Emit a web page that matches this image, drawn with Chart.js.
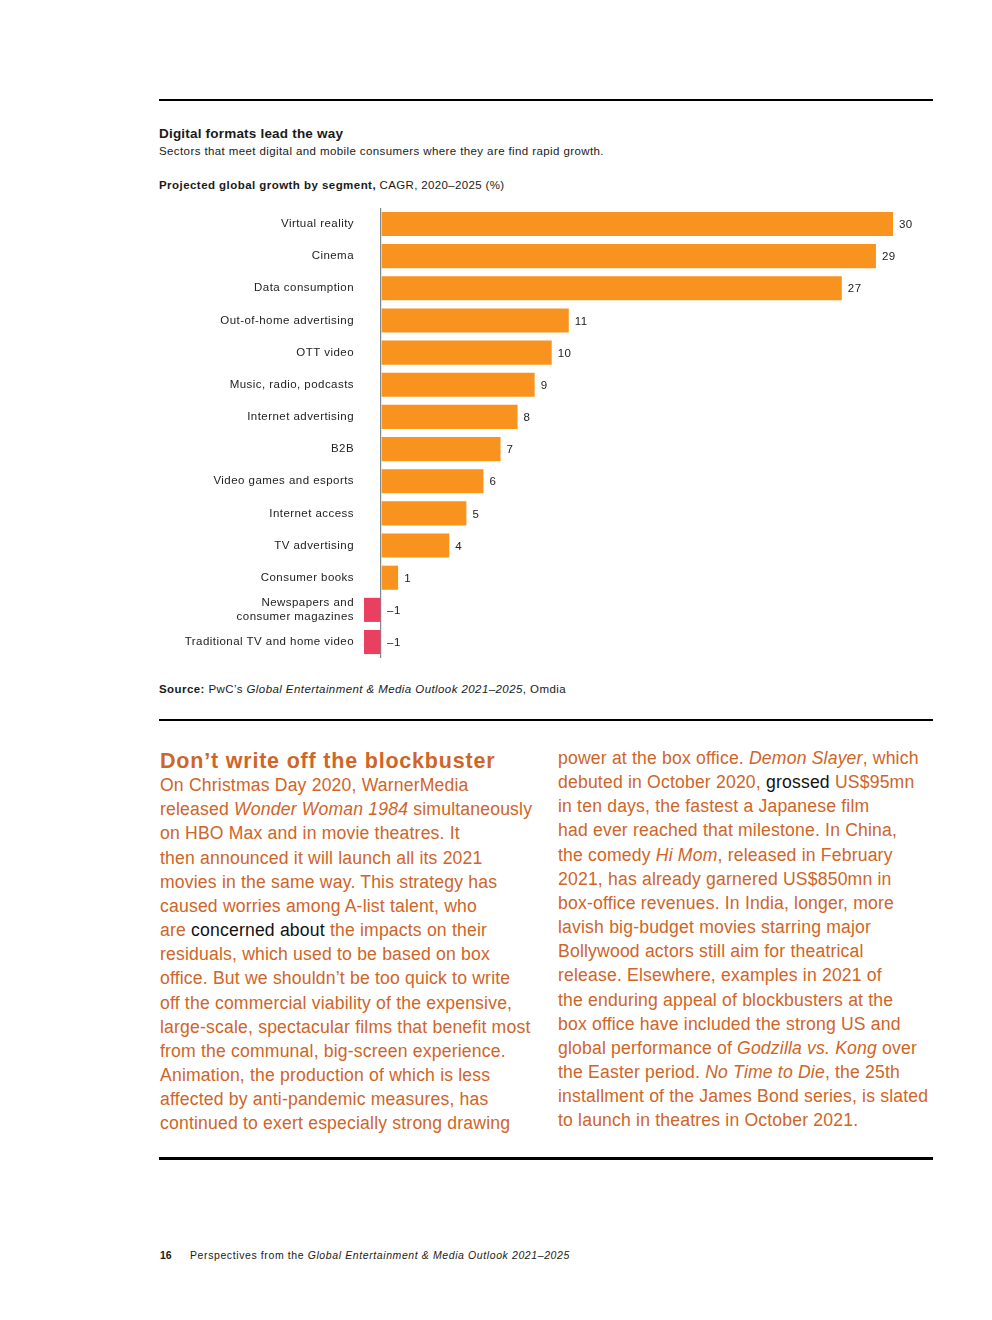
<!DOCTYPE html>
<html>
<head>
<meta charset="utf-8">
<script src="https://cdn.jsdelivr.net/npm/chart.js@4.4.1/dist/chart.umd.min.js"></script>
<style>
  body { margin: 0; width: 992px; height: 1320px; position: relative; background: #fff;
         font-family: "Liberation Sans", Arial, sans-serif; color: #1a1a1a; }
  .rule { position: absolute; left: 159px; width: 774px; background: #000; }
  .abs { position: absolute; white-space: nowrap; }
  .title { left: 159px; top: 126px; font-size: 13.5px; font-weight: bold; letter-spacing: 0.2px; }
  .sub { left: 159px; top: 145px; font-size: 11.5px; letter-spacing: 0.4px; }
  .unit { left: 159px; top: 179px; font-size: 11.5px; letter-spacing: 0.35px; }
  .unit b { letter-spacing: 0.45px; }
  .source { left: 159px; top: 683px; font-size: 11.5px; letter-spacing: 0.42px; }
  #chartBox { position: absolute; left: 159px; top: 191px; width: 774px; height: 484px; }
  .col { position: absolute; font-size: 17.6px; line-height: 24.15px; color: #cf6528;
         white-space: nowrap; letter-spacing: 0.18px; }
  .col h2 { font-size: 21.5px; margin: 0; line-height: 24.15px; font-weight: bold; letter-spacing: 0.8px; }
  .col .k { color: #111; }
  .footer { left: 160px; top: 1249px; font-size: 10.5px; letter-spacing: 0.6px; }
  .footer b { display: inline-block; width: 30px; letter-spacing: 0; }
</style>
</head>
<body>
<div class="rule" style="top:99px;height:2px"></div>
<div class="abs title">Digital formats lead the way</div>
<div class="abs sub">Sectors that meet digital and mobile consumers where they are find rapid growth.</div>
<div class="abs unit"><b>Projected global growth by segment,</b> CAGR, 2020–2025 (%)</div>

<div id="chartBox"><canvas id="growthChart"></canvas></div>

<div class="abs source"><b>Source:</b> PwC’s <i>Global Entertainment &amp; Media Outlook 2021–2025</i>, Omdia</div>
<div class="rule" style="top:719px;height:2px"></div>

<div class="col" style="left:160px;top:749px">
  <h2>Don’t write off the blockbuster</h2>
  <div>On Christmas Day 2020, WarnerMedia</div>
  <div>released <i>Wonder Woman 1984</i> simultaneously</div>
  <div>on HBO Max and in movie theatres. It</div>
  <div>then announced it will launch all its 2021</div>
  <div>movies in the same way. This strategy has</div>
  <div>caused worries among A-list talent, who</div>
  <div>are <span class="k">concerned about</span> the impacts on their</div>
  <div>residuals, which used to be based on box</div>
  <div>office. But we shouldn’t be too quick to write</div>
  <div>off the commercial viability of the expensive,</div>
  <div>large-scale, spectacular films that benefit most</div>
  <div>from the communal, big-screen experience.</div>
  <div>Animation, the production of which is less</div>
  <div>affected by anti-pandemic measures, has</div>
  <div>continued to exert especially strong drawing</div>
</div>

<div class="col" style="left:558px;top:746px">
  <div>power at the box office. <i>Demon Slayer</i>, which</div>
  <div>debuted in October 2020, <span class="k">grossed</span> US$95mn</div>
  <div>in ten days, the fastest a Japanese film</div>
  <div>had ever reached that milestone. In China,</div>
  <div>the comedy <i>Hi Mom</i>, released in February</div>
  <div>2021, has already garnered US$850mn in</div>
  <div>box-office revenues. In India, longer, more</div>
  <div>lavish big-budget movies starring major</div>
  <div>Bollywood actors still aim for theatrical</div>
  <div>release. Elsewhere, examples in 2021 of</div>
  <div>the enduring appeal of blockbusters at the</div>
  <div>box office have included the strong US and</div>
  <div>global performance of <i>Godzilla vs. Kong</i> over</div>
  <div>the Easter period. <i>No Time to Die</i>, the 25th</div>
  <div>installment of the James Bond series, is slated</div>
  <div>to launch in theatres in October 2021.</div>
</div>

<div class="rule" style="top:1157px;height:3px"></div>
<div class="abs footer"><b>16</b>Perspectives from the <i>Global Entertainment &amp; Media Outlook 2021–2025</i></div>

<script>
// Données du graphique
const categories = [
    'Virtual reality', 'Cinema', 'Data consumption', 'Out-of-home advertising', 'OTT video',
    'Music, radio, podcasts', 'Internet advertising', 'B2B', 'Video games and esports',
    'Internet access', 'TV advertising', 'Consumer books',
    ['Newspapers and', 'consumer magazines'], 'Traditional TV and home video'
];
const growth = [30, 29, 27, 11, 10, 9, 8, 7, 6, 5, 4, 1, -1, -1];
const axisRange = [-1, 30];

const orange = '#f7931e';
const pink = '#e9405f';

// Espacement des lettres sur le canvas (comme dans la mise en page d'origine)
const letterSpacing = {
    id: 'letterSpacing',
    beforeDraw(chart) {
        chart.ctx.letterSpacing = '0.45px';
    }
};

// Affiche la valeur au bout de chaque barre
const valueLabels = {
    id: 'valueLabels',
    afterDatasetsDraw(chart) {
        const ctx = chart.ctx;
        const zero = chart.scales.x.getPixelForValue(0);
        ctx.save();
        ctx.font = '11.5px "Liberation Sans", Arial, sans-serif';
        ctx.fillStyle = '#222';
        ctx.textBaseline = 'middle';
        chart.getDatasetMeta(0).data.forEach((bar, i) => {
            const v = growth[i];
            const text = v < 0 ? '\u2013' + Math.abs(v) : String(v);
            ctx.fillText(text, Math.max(bar.x, zero) + 6, bar.y + 1);
        });
        ctx.restore();
    }
};

const ctx = document.getElementById('growthChart').getContext('2d');
const growthChart = new Chart(ctx, {
    type: 'bar',
    data: {
        labels: categories,
        datasets: [{
            data: growth,
            backgroundColor: growth.map(v => v < 0 ? pink : orange),
            barPercentage: 0.75,
            categoryPercentage: 1
        }]
    },
    options: {
        indexAxis: 'y',
        responsive: true,
        maintainAspectRatio: false,
        animation: false,
        layout: { padding: { top: 8, right: 40, bottom: 0, left: 0 } },
        plugins: { legend: { display: false }, tooltip: { enabled: false } },
        scales: {
            x: {
                min: axisRange[0],
                max: axisRange[1],
                ticks: { display: false, stepSize: 1 },
                border: { display: false },
                grid: {
                    drawTicks: false,
                    lineWidth: 1.2,
                    color: c => c.tick && c.tick.value === 0 ? '#7f8a90' : 'transparent'
                }
            },
            y: {
                border: { display: false },
                grid: { display: false, drawTicks: false },
                ticks: {
                    padding: 10,
                    color: '#222',
                    font: { family: '"Liberation Sans", Arial, sans-serif', size: 11.5 }
                },
                afterFit: scale => { scale.width = 205; }
            }
        }
    },
    plugins: [letterSpacing, valueLabels]
});
</script>
</body>
</html>
